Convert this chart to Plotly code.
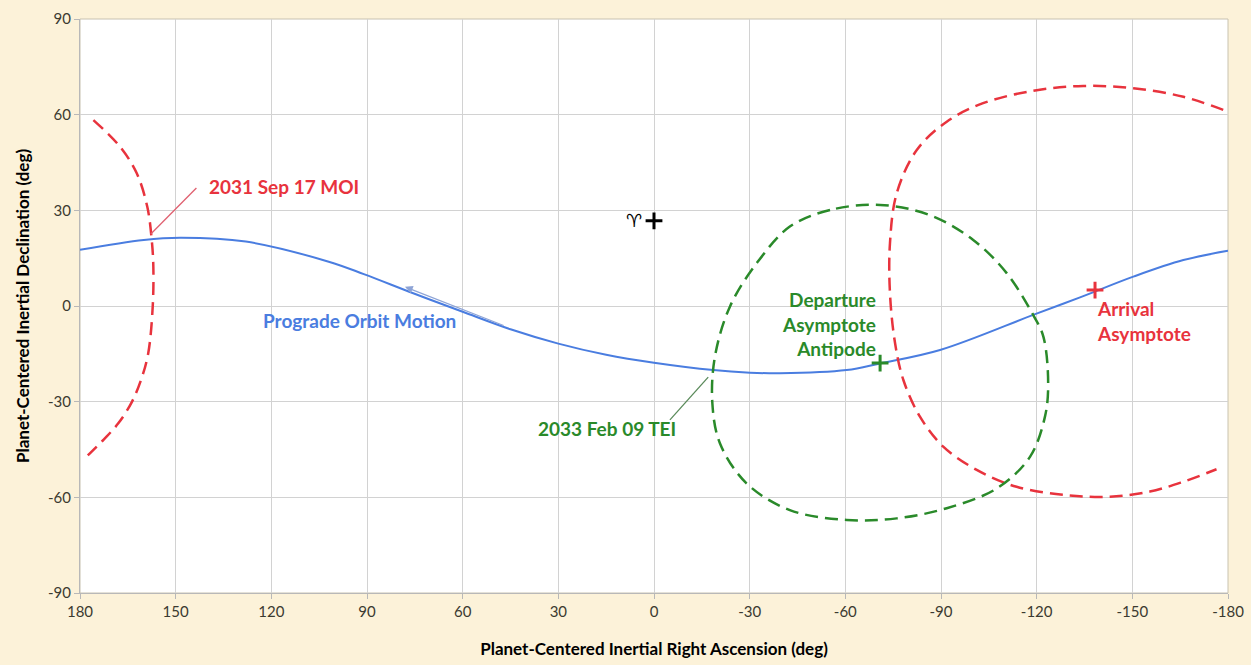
import plotly.graph_objects as go

# ---- data (degrees) ----
orbit_ra = [180, 160, 148.6, 128, 102, 91, 75.5, 60, 45, 30, 15, 0, -18.6, -30.1, -39.5, -60.4, -70.9,
            -89.7, -118.9, -133.6, -150.3, -166.0, -180]
orbit_dec = [17.6, 20.7, 21.4, 20.2, 13.9, 10.0, 4.0, -1.8, -7.3, -11.8, -15.3, -17.8, -20.1, -20.9, -21.1,
             -20.1, -18.0, -13.8, -2.8, 2.7, 9.2, 14.4, 17.3]

moi_left_ra = [175.8, 167.5, 162.2, 158.9, 157.5, 157.0, 157.2, 158.6, 160.8, 163.8, 168.0, 172.5, 176.9, 179.0]
moi_left_dec = [58.3, 50.0, 41.6, 31.1, 20.7, 12.3, -0.2, -14.8, -23.0, -30.2, -36.8, -41.8, -46.2, -48.3]

moi_right_ra = [-178.5, -166.0, -150.3, -134.6, -119.0, -103.2, -91.8, -82.4, -76.1, -74.0, -74.0, -75.6,
                -78.2, -83.4, -90.7, -101.2, -113.7, -129.4, -143.0, -155.5, -166.0, -176.4]
moi_right_dec = [61.5, 65.6, 68.3, 69.0, 67.5, 63.6, 57.8, 48.9, 35.3, 19.7, 4.0, -11.7,
                 -23.2, -34.7, -44.1, -51.4, -56.7, -59.3, -59.8, -58.2, -55.1, -51.2]

tei_ra = [-70.9, -55.2, -42.6, -32.2, -23.8, -19.1, -18.3, -20.7, -29.0, -42.6, -60.4, -76.1, -91.8, -107.5,
          -117.9, -122.6, -123.6, -122.1, -118.9, -110.6, -100.1, -86.5, -70.9]
tei_dec = [31.7, 30.1, 24.9, 13.4, -0.2, -15.9, -30.5, -43.1, -55.6, -64.0, -67.1, -66.6, -63.4, -57.2,
           -47.3, -34.7, -24.2, -9.6, -2.8, 10.3, 20.7, 28.5, 31.7]

aries_pt = (0, 26.7)
departure_pt = (-70.9, -17.9)
arrival_pt = (-138.3, 5.0)

x_ticks = [180, 150, 120, 90, 60, 30, 0, -30, -60, -90, -120, -150, -180]
y_ticks = [-90, -60, -30, 0, 30, 60, 90]

BLUE = "#4a7de0"
RED = "#e8333d"
GREEN = "#2a8a2a"
FONT = "Lato"
AFS = 19

fig = go.Figure()

fig.add_trace(go.Scatter(x=orbit_ra, y=orbit_dec, mode="lines", line=dict(color=BLUE, width=2, shape="spline"),
                         hoverinfo="skip"))
fig.add_trace(go.Scatter(x=moi_left_ra, y=moi_left_dec, mode="lines",
                         line=dict(color=RED, width=2.5, dash="13px,7px", shape="spline"), hoverinfo="skip"))
fig.add_trace(go.Scatter(x=moi_right_ra, y=moi_right_dec, mode="lines",
                         line=dict(color=RED, width=2.5, dash="13px,7px", shape="spline"), hoverinfo="skip"))
fig.add_trace(go.Scatter(x=tei_ra, y=tei_dec, mode="lines",
                         line=dict(color=GREEN, width=2.5, dash="13px,7px", shape="spline"), hoverinfo="skip"))

for pt, col in [(aries_pt, "black"), (departure_pt, GREEN), (arrival_pt, RED)]:
    fig.add_trace(go.Scatter(x=[pt[0]], y=[pt[1]], mode="markers",
                             marker=dict(symbol="cross-thin", size=12, line=dict(color=col, width=3)),
                             hoverinfo="skip"))

ann = []
ann.append(dict(x=aries_pt[0] + 3, y=aries_pt[1], text="\u2648\ufe0e", showarrow=False, xanchor="right",
                font=dict(family="DejaVu Sans", size=18, color="black")))
ann.append(dict(x=140.2, y=37.6, text="<b>2031 Sep 17 MOI</b>", showarrow=False, xanchor="left",
                font=dict(family=FONT, size=AFS, color=RED)))
ann.append(dict(x=92.2, y=-4.6, text="<b>Prograde Orbit Motion</b>", showarrow=False,
                font=dict(family=FONT, size=AFS, color=BLUE)))
ann.append(dict(x=78.1, y=6.0, ax=46.7, ay=-6.3, axref="x", ayref="y", text="", showarrow=True,
                arrowhead=2, arrowsize=1.2, arrowwidth=1.3, arrowcolor="#8ea4d6"))
ann.append(dict(x=-70.2, y=-5.6, text="<b>Departure<br>Asymptote<br>Antipode</b>", showarrow=False,
                xanchor="right", align="right", font=dict(family=FONT, size=AFS, color=GREEN)))
ann.append(dict(x=-138.3, y=-4.7, text="<b>Arrival<br>Asymptote</b>", showarrow=False,
                xanchor="left", align="left", font=dict(family=FONT, size=AFS, color=RED)))
ann.append(dict(x=37.0, y=-38.3, text="<b>2033 Feb 09 TEI</b>", showarrow=False, xanchor="left",
                font=dict(family=FONT, size=AFS, color=GREEN)))

shapes = [
    dict(type="line", x0=143.5, y0=37.0, x1=157.8, y1=22.6, xref="x", yref="y",
         line=dict(color="#e06070", width=1.3)),
    dict(type="line", x0=-5.0, y0=-35.7, x1=-17.0, y1=-22.3, xref="x", yref="y",
         line=dict(color="#5a8a5a", width=1.3)),
    dict(type="rect", x0=0, y0=0, x1=1, y1=1, xref="paper", yref="paper", layer="below",
         line=dict(color="#c8c2b0", width=1)),
]

axis_common = dict(showgrid=True, gridcolor="#d2d2d2", gridwidth=1, zeroline=False, showline=True,
                   linecolor="#b8b8b8", linewidth=1, ticks="outside", ticklen=5, tickcolor="#b8b8b8",
                   tickfont=dict(family=FONT, size=15, color="#3b3a30"), mirror=False, automargin=False)

fig.update_layout(
    width=1251, height=665,
    paper_bgcolor="#fcf2d9", plot_bgcolor="white",
    margin=dict(l=80, r=23, t=19, b=72),
    showlegend=False,
    xaxis=dict(range=[180, -180], tickvals=x_ticks, ticktext=[str(v) for v in x_ticks],
               title=dict(text="<b>Planet-Centered Inertial Right Ascension (deg)</b>",
                          font=dict(family=FONT, size=17, color="black"), standoff=24),
               **axis_common),
    yaxis=dict(range=[-90, 90], tickvals=y_ticks, ticktext=[str(v) for v in y_ticks],
               title=dict(text="<b>Planet-Centered Inertial Declination (deg)</b>",
                          font=dict(family=FONT, size=17, color="black"), standoff=14),
               **axis_common),
    annotations=ann,
    shapes=shapes,
)

fig.write_html("out.html")
